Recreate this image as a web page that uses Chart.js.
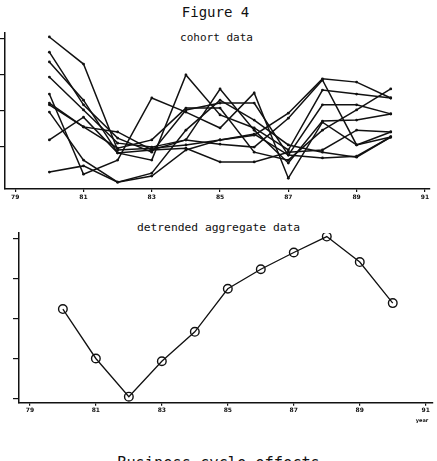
<!DOCTYPE html>
<html>
<head>
<meta charset="utf-8">
<script src="https://cdn.jsdelivr.net/npm/chart.js@4.4.1/dist/chart.umd.min.js"></script>
<style>
  html, body { margin:0; padding:0; background:#fff; }
  body { width:437px; height:461px; position:relative; overflow:hidden; }
  .t { position:absolute; left:0; width:437px; text-align:center; font-family:"DejaVu Sans Mono", monospace; color:#111; white-space:nowrap; }
  canvas { position:absolute; left:0; }
</style>
</head>
<body>
<div class="t" style="top:5px; font-size:14px; line-height:14px; left:-3px;">Figure 4</div>
<div class="t" style="top:32px; font-size:11px; line-height:11px; left:-2px;">cohort data</div>
<canvas id="top" width="437" height="210" style="top:0px;"></canvas>
<div class="t" style="top:222px; font-size:11.3px; line-height:11.3px; left:0px;">detrended aggregate data</div>
<canvas id="bot" width="437" height="205" style="top:220px;"></canvas>
<div class="t" style="top:418px; left:409px; width:26px; font-family:'DejaVu Sans'; font-weight:bold; font-size:5px; line-height:5px;">year</div>
<div class="t" style="top:456px; font-size:15.3px; line-height:15.3px; left:0px;">Business cycle effects</div>
<script>
// ---- data ----
const years = [1980, 1981, 1982, 1983, 1984, 1985, 1986, 1987, 1988, 1989, 1990];
const tickYears = [79, 81, 83, 85, 87, 89, 91];

const cohort1  = [4.04, 3.29, 0.91, 0.96, 1.05, 1.19, 1.32, 1.93, 2.88, 2.79, 2.35];
const cohort2  = [3.62, 2.16, 1.24, 0.85, 2.02, 2.21, 2.21, 0.77, 2.16, 2.16, 1.91];
const cohort3  = [3.35, 2.29, 0.83, 0.63, 2.99, 1.88, 1.52, 0.91, 2.57, 2.46, 2.35];
const cohort4  = [2.93, 2.02, 1.10, 0.99, 1.19, 2.60, 1.46, 0.55, 1.71, 1.74, 1.91];
const cohort5  = [2.46, 0.24, 0.63, 2.35, 1.96, 1.52, 2.49, 0.13, 1.68, 1.05, 1.27];
const cohort6  = [2.21, 1.55, 1.41, 0.91, 1.19, 1.07, 0.99, 1.79, 2.85, 1.05, 1.41];
const cohort7  = [2.16, 1.55, 0.96, 1.19, 2.07, 2.07, 0.85, 0.63, 1.46, 2.02, 2.60];
const cohort8  = [1.96, 0.63, 0.02, 0.27, 1.46, 2.29, 1.74, 1.05, 0.85, 0.71, 1.27];
const cohort9  = [1.19, 1.82, 0.83, 0.91, 0.96, 0.58, 0.58, 0.85, 0.91, 1.46, 1.41];
const cohort10 = [0.30, 0.47, 0.02, 0.19, 0.91, 1.19, 1.35, 0.77, 0.69, 0.74, 1.27];

const aggregate = [0.24, -1.00, -1.96, -1.07, -0.33, 0.75, 1.24, 1.66, 2.06, 1.42, 0.39];

const cohortTicks = [1, 2, 3, 4];
const aggTicks = [-2, -1, 0, 1, 2];
// ---------------

const INK = '#111';
const yearToX = y => y - 1900;
const toPts = arr => years.map((yr, i) => ({ x: yearToX(yr), y: arr[i] }));

function xScale(min, max, h, pad) {
  return {
    type: 'linear', min: min, max: max,
    afterBuildTicks: s => { s.ticks = tickYears.map(v => ({ value: v })); },
    afterFit: s => { s.height = h; },
    ticks: { color: INK, font: { family: 'DejaVu Sans', size: 6, weight: 'bold' }, padding: pad, maxRotation: 0, autoSkip: false, callback: v => String(v) },
    grid: { drawOnChartArea: false, drawTicks: true, tickLength: 3, color: INK, lineWidth: 1.2 },
    border: { display: true, color: INK, width: 1.5 }
  };
}
function yScale(min, max, ticks, w) {
  return {
    type: 'linear', min: min, max: max,
    afterBuildTicks: s => { s.ticks = ticks.map(v => ({ value: v })); },
    afterFit: s => { s.width = w; },
    ticks: { display: false },
    grid: { drawOnChartArea: false, drawTicks: true, tickLength: 6, color: INK, lineWidth: 1.2 },
    border: { display: true, color: INK, width: 1.5 }
  };
}

const cohorts = [cohort1, cohort2, cohort3, cohort4, cohort5, cohort6, cohort7, cohort8, cohort9, cohort10];

new Chart(document.getElementById('top'), {
  type: 'line',
  data: {
    datasets: cohorts.map((c, i) => ({
      label: 'cohort ' + (i + 1),
      data: toPts(c),
      borderColor: INK, backgroundColor: INK,
      borderWidth: 1.5, pointRadius: 1.4, pointBorderWidth: 0,
      tension: 0, fill: false
    }))
  },
  options: {
    responsive: false, animation: false, devicePixelRatio: 1,
    layout: { padding: { top: 33, left: 0, right: 7, bottom: 0 }, autoPadding: false },
    plugins: { legend: { display: false }, tooltip: { enabled: false }, title: { display: false } },
    scales: {
      x: xScale(78.7, 91.15, 21, 2),
      y: yScale(-0.17, 4.15, cohortTicks, 5)
    }
  }
});

new Chart(document.getElementById('bot'), {
  type: 'line',
  data: {
    datasets: [{
      label: 'aggregate',
      data: toPts(aggregate),
      borderColor: INK, backgroundColor: 'rgba(0,0,0,0)',
      borderWidth: 1.3, pointRadius: 4.3, pointBorderWidth: 1.4,
      pointBorderColor: INK, pointBackgroundColor: 'rgba(255,255,255,0)',
      tension: 0, fill: false
    }]
  },
  options: {
    responsive: false, animation: false, devicePixelRatio: 1,
    layout: { padding: { top: 13, left: 0, right: 4, bottom: 0 }, autoPadding: false },
    plugins: { legend: { display: false }, tooltip: { enabled: false }, title: { display: false } },
    scales: {
      x: xScale(78.67, 91.22, 22.3, 1),
      y: yScale(-2.11, 2.15, aggTicks, 19)
    }
  }
});
</script>
</body>
</html>
